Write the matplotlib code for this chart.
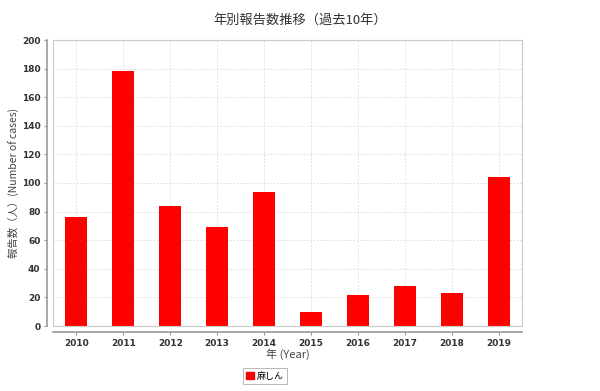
import matplotlib
matplotlib.use('Agg')
import matplotlib.pyplot as plt
from matplotlib.patches import Rectangle

plt.rcParams['font.family'] = ['Noto Sans CJK JP', 'DejaVu Sans']

years = ['2010', '2011', '2012', '2013', '2014', '2015', '2016', '2017', '2018', '2019']
cases = [76, 178, 84, 69, 94, 10, 22, 28, 23, 104]
series_name = '麻しん'

fig = plt.figure(figsize=(6, 3.91), dpi=100)
ax = fig.add_axes([53 / 600, 1 - 326 / 391, 469 / 600, 286 / 391])

x = range(len(years))
ax.bar(x, cases, width=0.47, color='#ff0000', zorder=2)

ax.set_xlim(-0.5, 9.5)
ax.set_ylim(0, 200)
ax.set_yticks(range(0, 201, 20))
ax.set_xticks(list(x))
ax.set_xticklabels(years)

ax.grid(True, color='#d8d8d8', linestyle=(0, (2, 2)), linewidth=0.6, zorder=0)

# plot area border
for s in ['top', 'right']:
    ax.spines[s].set_color('#cccccc')
    ax.spines[s].set_linewidth(0.8)
for s in ['left', 'bottom']:
    ax.spines[s].set_position(('outward', 4))
    ax.spines[s].set_color('#999999')
    ax.spines[s].set_linewidth(1.2)
ax.add_patch(Rectangle((0, 0), 1, 1, transform=ax.transAxes, fill=False,
                       edgecolor='#cccccc', linewidth=0.8, zorder=3, clip_on=False))

ax.tick_params(axis='both', colors='#999999', labelcolor='#333333', length=2,
               labelsize=6.5, pad=3)
for lbl in ax.get_xticklabels() + ax.get_yticklabels():
    lbl.set_family('DejaVu Sans')
    lbl.set_fontweight('bold')

ax.set_xlabel('年 (Year)', fontsize=8, color='#444444', labelpad=1)
ax.set_ylabel('報告数（人）(Number of cases)', fontsize=7.5, color='#444444', labelpad=2)
fig.text(0.5, 1 - 20 / 391, '年別報告数推移（過去10年）', ha='center', va='center',
         fontsize=9.5, color='#333333')

leg = fig.legend([Rectangle((0, 0), 1, 1, color='#ff0000')], [series_name],
                 loc='center', bbox_to_anchor=(265 / 600, 1 - 376 / 391),
                 fontsize=6.5, frameon=True, fancybox=False, edgecolor='#999999',
                 handlelength=0.9, handleheight=0.9, handletextpad=0.3,
                 borderpad=0.35, borderaxespad=0)
leg.get_frame().set_linewidth(0.6)

fig.savefig('out.png', dpi=100)
